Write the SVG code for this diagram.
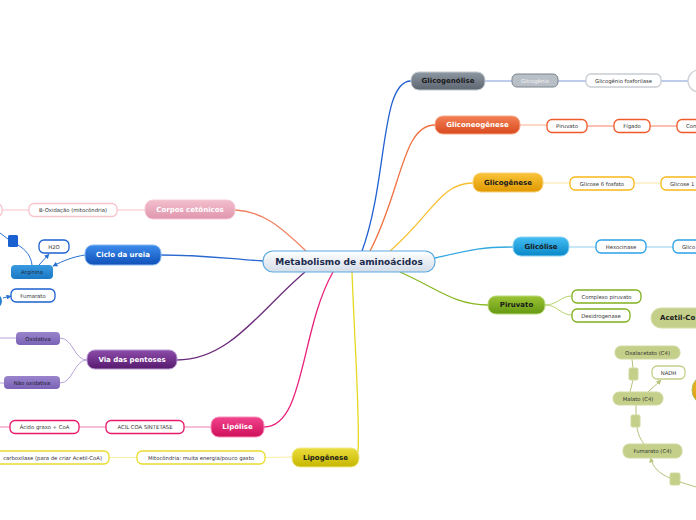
<svg xmlns="http://www.w3.org/2000/svg" width="696" height="520" viewBox="0 0 696 520">
<style>
text{font-family:"DejaVu Sans","Liberation Sans",sans-serif;text-anchor:middle;dominant-baseline:central}
.t0{font-size:9px;font-weight:bold;fill:#1b2a4c}
.t1{font-size:7px;font-weight:bold}
.w{fill:#ffffff}
.d{fill:#1a1a1a}
.lf{font-size:5.3px;fill:#333333}
.leaf{fill:#ffffff;stroke-width:1.3}
.c{fill:none;stroke-width:1.3}
.s{fill:none;stroke-width:1}
.g{fill:#c4d08a;stroke:#d0daa0;stroke-width:1}
</style>
<defs>
<linearGradient id="gC" x1="0" y1="0" x2="0" y2="1"><stop offset="0" stop-color="#ffffff"/><stop offset="1" stop-color="#d4dde8"/></linearGradient>
<linearGradient id="gGray" x1="0" y1="0" x2="0" y2="1"><stop offset="0" stop-color="#8e98a3"/><stop offset="1" stop-color="#5c6570"/></linearGradient>
<linearGradient id="gOr" x1="0" y1="0" x2="0" y2="1"><stop offset="0" stop-color="#f38055"/><stop offset="1" stop-color="#d94a1e"/></linearGradient>
<linearGradient id="gYo" x1="0" y1="0" x2="0" y2="1"><stop offset="0" stop-color="#f9c43a"/><stop offset="1" stop-color="#e09800"/></linearGradient>
<linearGradient id="gBl" x1="0" y1="0" x2="0" y2="1"><stop offset="0" stop-color="#45bdf2"/><stop offset="1" stop-color="#0888c8"/></linearGradient>
<linearGradient id="gGr" x1="0" y1="0" x2="0" y2="1"><stop offset="0" stop-color="#9cc435"/><stop offset="1" stop-color="#659812"/></linearGradient>
<linearGradient id="gPk" x1="0" y1="0" x2="0" y2="1"><stop offset="0" stop-color="#f2bfcd"/><stop offset="1" stop-color="#e096ae"/></linearGradient>
<linearGradient id="gUr" x1="0" y1="0" x2="0" y2="1"><stop offset="0" stop-color="#3c8ced"/><stop offset="1" stop-color="#0f50b8"/></linearGradient>
<linearGradient id="gPu" x1="0" y1="0" x2="0" y2="1"><stop offset="0" stop-color="#8c4caa"/><stop offset="1" stop-color="#571a6e"/></linearGradient>
<linearGradient id="gLp" x1="0" y1="0" x2="0" y2="1"><stop offset="0" stop-color="#f2448e"/><stop offset="1" stop-color="#cf0f5a"/></linearGradient>
<linearGradient id="gLg" x1="0" y1="0" x2="0" y2="1"><stop offset="0" stop-color="#ebde3c"/><stop offset="1" stop-color="#c6b600"/></linearGradient>
<linearGradient id="gAr" x1="0" y1="0" x2="0" y2="1"><stop offset="0" stop-color="#3a9ae0"/><stop offset="1" stop-color="#1a78c4"/></linearGradient>
<linearGradient id="gOx" x1="0" y1="0" x2="0" y2="1"><stop offset="0" stop-color="#9a84cc"/><stop offset="1" stop-color="#7a62b6"/></linearGradient>
<radialGradient id="gSun" cx="0.4" cy="0.4" r="0.6"><stop offset="0" stop-color="#f8d040"/><stop offset="1" stop-color="#d88c00"/></radialGradient>
<marker id="aB" viewBox="0 0 10 10" refX="9" refY="5" markerWidth="5" markerHeight="5" orient="auto"><path d="M0,0L10,5L0,10z" fill="#2a70d0"/></marker>
<marker id="aG" viewBox="0 0 10 10" refX="9" refY="5" markerWidth="5" markerHeight="5" orient="auto"><path d="M0,0L10,5L0,10z" fill="#b4c47a"/></marker>
</defs>

<g id="connectors">
<path class="c" d="M263,261 C220,258 200,255 161,255" stroke="#2a6ad0"/>
<path class="c" d="M306,251 C280,226 262,211 235,210" stroke="#f08060"/>
<path class="c" d="M305,272 C260,310 230,360 177,360" stroke="#6a2a7a"/>
<path class="c" d="M333,272 C300,330 305,427 264,427" stroke="#e8207a"/>
<path class="c" d="M352,272 C355,350 360,420 358,452" stroke="#e4d820"/>
<path class="c" d="M362,251 C388,180 380,81 411,81" stroke="#2060d0"/>
<path class="c" d="M370,251 C402,190 402,125 435,125" stroke="#f07040"/>
<path class="c" d="M390,251 C432,215 440,183 473,183" stroke="#f8c030"/>
<path class="c" d="M435,258 C470,250 480,247 513,247" stroke="#30a8e0"/>
<path class="c" d="M400,272 C440,290 455,305 488,305" stroke="#88b820"/>

<path class="s" d="M485,81 H512 M558,81 H586 M661,81 H688" stroke="#7a9ad6"/>
<path class="s" d="M520,125 H547" stroke="#f8b090" stroke-width="2"/>
<path class="s" d="M587,126 H614 M650,126 H677" stroke="#f88060"/>
<path class="s" d="M543,183 H570 M634,183 H661" stroke="#fae4a4" stroke-width="2"/>
<path class="s" d="M569,247 H596 M646,247 H673" stroke="#90d0f0"/>
<path class="s" d="M545,305 C558,305 560,296 572,296 M545,305 C558,305 560,315 572,315" stroke="#b8d470"/>

<path class="s" d="M145,210 H117 M29,210 H2" stroke="#f8c0c8"/>
<path class="s" d="M85,255 C72,257 63,261 53,266" stroke="#2a70d0" marker-end="url(#aB)"/>
<path class="s" d="M39,265 L49,254" stroke="#2a70d0" marker-end="url(#aB)"/>
<path class="s" d="M18,245 C26,250 31,256 32,265" stroke="#2a70d0"/>
<path class="s" d="M0,233 L8,239" stroke="#2a70d0"/>
<path class="s" d="M3,298 L11,296" stroke="#2a70d0" marker-end="url(#aB)"/>

<path class="s" d="M87,360 C74,360 73,338 60,338 M87,360 C74,360 73,383 60,383 M16,338 H0 M4,383 H0" stroke="#b8a0d8"/>
<path class="s" d="M211,427 H184 M106,427 H79 M10,427 H0" stroke="#f080b0"/>
<path class="s" d="M292,457 L265,457.5 M137,457.5 H109" stroke="#f8f0a0" stroke-width="1.5"/>

<path class="s" d="M633,368 L632,359 M633,380 L630,392 M636,405 L636,415 M637,427 C638,435 641,440 644,444" stroke="#b4c47a"/>
<path class="s" d="M648,392 L661,380" stroke="#b4c47a" marker-end="url(#aG)"/>
<path class="s" d="M670,478 C660,474 652,467 651,458" stroke="#b4c47a" marker-end="url(#aG)"/>
<path class="s" d="M680,482 L696,487" stroke="#b4c47a"/>
</g>

<g id="center"><rect x="263" y="251" width="172" height="21" rx="10" fill="url(#gC)" stroke="#5aa8e0" stroke-width="1.2"/><text class="t0" x="349" y="262">Metabolismo de aminoácidos</text></g>

<g id="glicogenolise"><rect x="411" y="72" width="74" height="18" rx="8" fill="url(#gGray)" stroke="#c4cad0"/><text class="t1 d" x="448" y="81">Glicogenólise</text></g>
<g id="glicogenio"><rect x="512" y="74" width="46" height="13" rx="5" fill="#b9bfc6" stroke="#7a838d"/><text class="lf" style="fill:#f4f4f4" x="535" y="80.5">Glicogênio</text></g>
<g id="fosforilase"><rect class="leaf" x="586" y="74" width="75" height="13" rx="5" stroke="#c8ccd2"/><text class="lf" x="623.5" y="80.5">Glicogênio fosforilase</text></g>
<g id="circ"><rect class="leaf" x="688" y="70" width="60" height="22" rx="11" stroke="#ccd0d4"/></g>

<g id="gliconeogenese"><rect x="435" y="116" width="85" height="18" rx="8" fill="url(#gOr)" stroke="#f8a888"/><text class="t1 w" x="477.5" y="125">Gliconeogênese</text></g>
<g id="piruvato1"><rect class="leaf" x="547" y="119.5" width="40" height="13" rx="5" stroke="#f05a28"/><text class="lf" x="567" y="126">Piruvato</text></g>
<g id="figado"><rect class="leaf" x="614" y="119.5" width="36" height="13" rx="5" stroke="#f05a28"/><text class="lf" x="632" y="126">Fígado</text></g>
<g id="con"><rect class="leaf" x="677" y="119.5" width="60" height="13" rx="5" stroke="#f05a28"/><text class="lf" style="text-anchor:start" x="686" y="126">Con</text></g>

<g id="glicogenese"><rect x="473" y="173" width="70" height="19" rx="8" fill="url(#gYo)" stroke="#fad27a"/><text class="t1 d" x="508" y="182.5">Glicogênese</text></g>
<g id="g6f"><rect class="leaf" x="570" y="177" width="64" height="13" rx="5" stroke="#f8b818"/><text class="lf" x="602" y="183.5">Glicose 6 fosfato</text></g>
<g id="g1"><rect class="leaf" x="661" y="177" width="60" height="13" rx="5" stroke="#f8b818"/><text class="lf" style="text-anchor:start" x="670" y="183.5">Glicose 1</text></g>

<g id="glicolise"><rect x="513" y="237" width="56" height="19" rx="8" fill="url(#gBl)" stroke="#8ad4f6"/><text class="t1 d" x="541" y="246.5">Glicólise</text></g>
<g id="hexocinase"><rect class="leaf" x="596" y="240" width="50" height="13" rx="5" stroke="#2aa0e8"/><text class="lf" x="621" y="246.5">Hexocinase</text></g>
<g id="glico"><rect class="leaf" x="673" y="240" width="60" height="13" rx="5" stroke="#2aa0e8"/><text class="lf" style="text-anchor:start" x="682" y="246.5">Glico</text></g>

<g id="piruvato"><rect x="488" y="296" width="57" height="18" rx="8" fill="url(#gGr)" stroke="#b8d878"/><text class="t1 d" x="516.5" y="305">Piruvato</text></g>
<g id="complexo"><rect class="leaf" x="572" y="290" width="69" height="13" rx="5" stroke="#80b020"/><text class="lf" x="606.5" y="296.5">Complexo piruvato</text></g>
<g id="desidrogenase"><rect class="leaf" x="572" y="309" width="58" height="13" rx="5" stroke="#80b020"/><text class="lf" x="601" y="315.5">Desidrogenase</text></g>

<g id="acetil"><rect x="651" y="308" width="80" height="20" rx="10" fill="#c4d08a" stroke="#d4dea6"/><text class="t1 d" style="text-anchor:start" x="660" y="318">Acetil-Co</text></g>
<g id="sun"><circle cx="707" cy="390" r="15" fill="url(#gSun)" stroke="#b0c050"/></g>
<g id="oxalacetato"><rect class="g" x="615" y="346" width="65" height="13" rx="6"/><text class="lf" x="647.5" y="352.5">Oxalacetato (C4)</text></g>
<g id="sqA"><rect class="g" x="629" y="368" width="9" height="12" rx="1.5"/></g>
<g id="nadh"><rect class="leaf" x="652" y="366" width="33" height="13" rx="5" stroke="#c4d08a"/><text class="lf" x="668.5" y="372.5">NADH</text></g>
<g id="malato"><rect class="g" x="613" y="392" width="50" height="13" rx="6"/><text class="lf" x="638" y="398.5">Malato (C4)</text></g>
<g id="sqB"><rect class="g" x="631" y="415" width="9" height="12" rx="1.5"/></g>
<g id="fumarato4"><rect class="g" x="623" y="444" width="59" height="14" rx="6"/><text class="lf" x="652.5" y="451">Fumarato (C4)</text></g>
<g id="sqC"><rect class="g" x="670" y="473" width="10" height="12" rx="1.5"/></g>

<g id="corpos"><rect x="145" y="200" width="90" height="19" rx="8" fill="url(#gPk)" stroke="#f6c8d4"/><text class="t1 w" x="190" y="209.5">Corpos cetônicos</text></g>
<g id="boxidacao"><rect class="leaf" x="29" y="203.5" width="88" height="13" rx="5" stroke="#f8c4cc"/><text class="lf" x="73" y="210">B-Oxidação (mitocôndria)</text></g>
<g id="pk0"><rect class="leaf" x="-40" y="203.5" width="42" height="13" rx="5" stroke="#f8c4cc"/></g>

<g id="ureia"><rect x="85" y="245" width="76" height="20" rx="8" fill="url(#gUr)" stroke="#8ab8f0"/><text class="t1 w" x="123" y="255">Ciclo da ureia</text></g>
<g id="h2o"><rect class="leaf" x="39" y="240" width="30" height="13" rx="5" stroke="#1a60d0"/><text class="lf" x="54" y="246.5">H2O</text></g>
<g id="arginina"><rect x="11" y="265" width="42" height="14" rx="4" fill="url(#gAr)"/><text class="lf" style="fill:#1a2a40" x="32" y="272">Arginina</text></g>
<g id="sqU"><rect x="8" y="235" width="10" height="12" rx="1.5" fill="#1a60d0"/></g>
<g id="fumarato"><rect class="leaf" x="11" y="289" width="44" height="13" rx="5" stroke="#1a60d0"/><text class="lf" x="33" y="295.5">Fumarato</text></g>
<g id="bl0"><circle cx="-6" cy="301" r="8" fill="#2a80d0"/></g>

<g id="pentoses"><rect x="87" y="350" width="90" height="19" rx="8" fill="url(#gPu)" stroke="#b89ad0"/><text class="t1 w" x="132" y="359.5">Via das pentoses</text></g>
<g id="oxidativa"><rect x="16" y="332" width="44" height="13" rx="4" fill="url(#gOx)"/><text class="lf" style="fill:#1a1a2a" x="38" y="338.5">Oxidativa</text></g>
<g id="naooxidativa"><rect x="4" y="376" width="56" height="13" rx="4" fill="url(#gOx)"/><text class="lf" style="fill:#1a1a2a" x="32" y="382.5">Não oxidativa</text></g>

<g id="lipolise"><rect x="211" y="417" width="53" height="20" rx="8" fill="url(#gLp)" stroke="#f690b8"/><text class="t1 w" x="237.5" y="427">Lipólise</text></g>
<g id="acil"><rect class="leaf" x="106" y="420.5" width="78" height="13" rx="5" stroke="#e8186a"/><text class="lf" x="145" y="427">ACIL COA SINTETASE</text></g>
<g id="acido"><rect class="leaf" x="10" y="420.5" width="69" height="13" rx="5" stroke="#e8186a"/><text class="lf" x="44.5" y="427">Ácido graxo + CoA</text></g>

<g id="lipogenese"><rect x="292" y="448" width="67" height="19" rx="8" fill="url(#gLg)" stroke="#f2ea90"/><text class="t1 d" x="325.5" y="457.5">Lipogênese</text></g>
<g id="mitocondria"><rect class="leaf" x="137" y="451" width="128" height="13" rx="5" stroke="#e8dc30"/><text class="lf" x="201" y="457.5">Mitocôndria: muita energia/pouco gasto</text></g>
<g id="carboxilase"><rect class="leaf" x="-30" y="451" width="139" height="13" rx="5" stroke="#e8dc30"/><text class="lf" style="text-anchor:end" x="102" y="457.5">carboxilase (para de criar Acetil-CoA)</text></g>
</svg>
